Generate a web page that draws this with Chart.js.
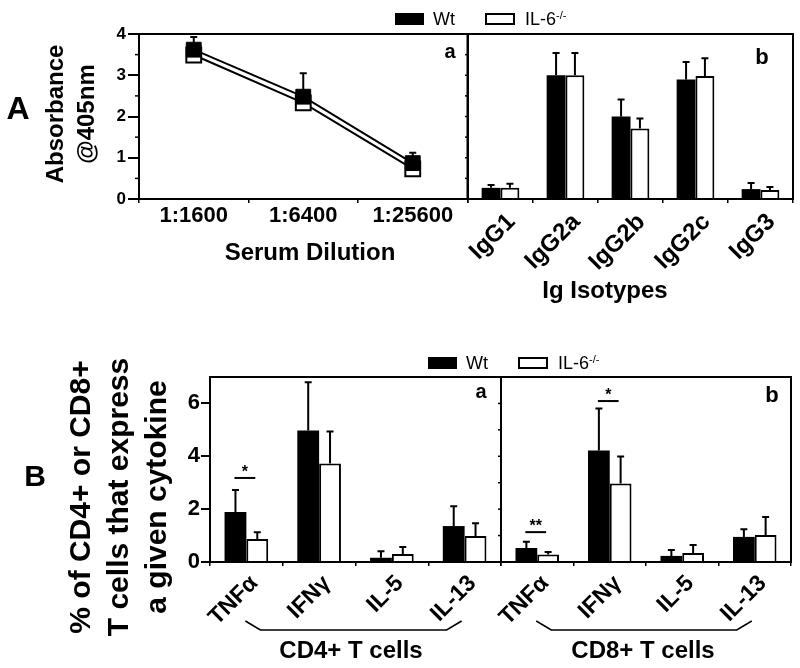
<!DOCTYPE html>
<html><head><meta charset="utf-8">
<script src="https://cdn.jsdelivr.net/npm/chart.js@4.4.1/dist/chart.umd.min.js"></script>
<style>
html,body{margin:0;padding:0;background:#fff;}
#wrap{position:relative;width:800px;height:668px;overflow:hidden;font-family:"Liberation Sans",Arial,sans-serif;color:#000;}
canvas{position:absolute;}
.t{position:absolute;white-space:nowrap;font-weight:bold;transform:translate(-50%,-50%);line-height:1;text-align:center;}
.rot{transform:translate(-50%,-50%) rotate(-90deg);}
.lg{position:absolute;white-space:nowrap;font-size:18px;transform:translateY(-50%);line-height:1;}
.lg sup{font-size:11px;vertical-align:6px;line-height:0;}
.box{position:absolute;box-sizing:border-box;border:2px solid #000;}
</style></head><body><div id="wrap">
<canvas id="cAa" style="left:0;top:0" width="480" height="245"></canvas>
<canvas id="cAb" style="left:400px;top:0" width="400" height="290"></canvas>
<canvas id="cBa" style="left:0;top:330px" width="510" height="338"></canvas>
<canvas id="cBb" style="left:460px;top:330px" width="340" height="338"></canvas>
</div>
<script>
// ---------- data ----------
const seriesNames = ['Wt', 'IL-6-/-'];
const dilutions = ['1:1600', '1:6400', '1:25600'];
const absWt = [3.62, 2.48, 0.87];
const absWtSD = [0.31, 0.57, 0.25];
const absKo = [3.49, 2.33, 0.73];

const isotypes = ['IgG1', 'IgG2a', 'IgG2b', 'IgG2c', 'IgG3'];
const igWt = [0.27, 3.00, 2.00, 2.90, 0.24];
const igWtSD = [0.07, 0.54, 0.41, 0.42, 0.15];
const igKo = [0.27, 3.00, 1.71, 2.98, 0.22];
const igKoSD = [0.10, 0.54, 0.24, 0.43, 0.07];

const cytokines = ['TNFα', 'IFNγ', 'IL-5', 'IL-13'];
const cd4Wt = [1.89, 4.98, 0.16, 1.36];
const cd4WtSD = [0.83, 1.82, 0.25, 0.75];
const cd4Ko = [0.87, 3.73, 0.30, 0.98];
const cd4KoSD = [0.26, 1.21, 0.27, 0.49];
const cd8Wt = [0.53, 4.22, 0.23, 0.95];
const cd8WtSD = [0.24, 1.59, 0.22, 0.29];
const cd8Ko = [0.28, 2.97, 0.34, 1.02];
const cd8KoSD = [0.10, 1.02, 0.30, 0.68];

const cd4Sig = [{index: 0, level: 3.18, mark: '*'}];
const cd8Sig = [{index: 0, level: 1.13, mark: '**'}, {index: 1, level: 6.09, mark: '*'}];

const absTicks = [0, 1, 2, 3, 4];
const pctTicks = [0, 2, 4, 6];

// ---------- setup ----------
const FONT = '"Liberation Sans", Arial, sans-serif';
Chart.defaults.font.family = FONT;
Chart.defaults.color = '#000';
Chart.defaults.animation = false;

const errorBars = {
  id: 'errorBars',
  afterDatasetsDraw(chart) {
    const ctx = chart.ctx, ys = chart.scales.y;
    chart.data.datasets.forEach((ds, i) => {
      if (!ds.sd) return;
      const meta = chart.getDatasetMeta(i);
      meta.data.forEach((el, j) => {
        const sd = ds.sd[j];
        if (sd == null) return;
        const x = el.x, y0 = el.y, y1 = ys.getPixelForValue(ds.data[j] + sd);
        ctx.save();
        ctx.strokeStyle = '#000'; ctx.lineWidth = 2;
        ctx.beginPath();
        ctx.moveTo(x, y0); ctx.lineTo(x, y1);
        ctx.moveTo(x - 3.5, y1); ctx.lineTo(x + 3.5, y1);
        ctx.stroke();
        ctx.restore();
      });
    });
  }
};
const frame = {
  id: 'frame',
  afterDatasetsDraw(chart) {
    const {ctx, chartArea: a} = chart;
    ctx.save(); ctx.strokeStyle = '#000'; ctx.lineWidth = 2;
    ctx.strokeRect(a.left, a.top, a.right - a.left, a.bottom - a.top);
    ctx.restore();
  }
};
const minorTicks = {
  id: 'minorTicks',
  afterDraw(chart, args, opts) {
    if (!opts.step) return;
    const ys = chart.scales.y, x = chart.chartArea.left, ctx = chart.ctx;
    ctx.save(); ctx.strokeStyle = '#000'; ctx.lineWidth = 1.5;
    for (let k = 1; ys.min + k * opts.step < ys.max - 1e-9; k++) {
      const v = ys.min + k * opts.step;
      if (opts.skipMajor && Math.abs(v - Math.round(v)) < 1e-9) continue;
      const y = ys.getPixelForValue(v);
      ctx.beginPath(); ctx.moveTo(x, y); ctx.lineTo(x - opts.len, y); ctx.stroke();
    }
    ctx.restore();
  }
};
const sigMarks = {
  id: 'sigMarks',
  afterDatasetsDraw(chart, args, opts) {
    if (!opts.items) return;
    const ctx = chart.ctx, ys = chart.scales.y;
    const m0 = chart.getDatasetMeta(0), m1 = chart.getDatasetMeta(1);
    opts.items.forEach(it => {
      const x0 = m0.data[it.index].x - 1, x1 = m1.data[it.index].x - 2;
      const y = ys.getPixelForValue(it.level);
      ctx.save();
      ctx.strokeStyle = '#000'; ctx.lineWidth = 2;
      ctx.beginPath(); ctx.moveTo(x0, y); ctx.lineTo(x1, y); ctx.stroke();
      ctx.fillStyle = '#000'; ctx.font = 'bold 16px ' + FONT;
      ctx.textAlign = 'center'; ctx.textBaseline = 'alphabetic';
      ctx.fillText(it.mark, (x0 + x1) / 2, y - 1);
      ctx.restore();
    });
  }
};
const bracket = {
  id: 'bracket',
  afterDraw(chart, args, opts) {
    if (opts.from == null) return;
    const ctx = chart.ctx, xs = chart.scales.x, b = chart.chartArea.bottom;
    const x0 = xs.getPixelForValue(opts.from) - 1, x1 = xs.getPixelForValue(opts.to) - 3;
    ctx.save(); ctx.strokeStyle = '#000'; ctx.lineWidth = 1.6;
    ctx.beginPath();
    ctx.moveTo(x0, b + 59); ctx.lineTo(x0 + 15, b + 68); ctx.lineTo(x1 - 15, b + 68); ctx.lineTo(x1, b + 59);
    ctx.stroke(); ctx.restore();
  }
};

function xAxis(size, rot, pad, shift) {
  return {
    offset: true,
    grid: {offset: true, drawOnChartArea: false, tickLength: 4, color: '#000', lineWidth: 1.5},
    border: {display: false},
    ticks: {font: {size: size, weight: 'bold'}, padding: pad, labelOffset: shift || 0,
            minRotation: rot, maxRotation: rot, autoSkip: false}
  };
}

function barSets(w, wsd, k, ksd) {
  return [
    {label: seriesNames[0], data: w, sd: wsd, backgroundColor: '#000', borderColor: '#000', borderWidth: 0},
    {label: seriesNames[1], data: k, sd: ksd, backgroundColor: '#fff', borderColor: '#000', borderWidth: 2}
  ];
}

// ---------- A a: line chart ----------
new Chart(document.getElementById('cAa'), {
  type: 'line',
  data: {labels: dilutions, datasets: [
    {label: seriesNames[0], data: absWt, sd: absWtSD, borderColor: '#000', borderWidth: 2,
     pointStyle: 'rect', pointRadius: 10.5, pointBackgroundColor: '#000', pointBorderColor: '#000', pointBorderWidth: 1, tension: 0},
    {label: seriesNames[1], data: absKo, borderColor: '#000', borderWidth: 2,
     pointStyle: 'rect', pointRadius: 10.5, pointBackgroundColor: '#fff', pointBorderColor: '#000', pointBorderWidth: 2, tension: 0}
  ]},
  options: {
    responsive: false, animation: false,
    layout: {padding: {top: 34, right: 12, left: 0, bottom: 0}},
    plugins: {legend: {display: false}, tooltip: {enabled: false},
      minorTicks: {step: 0.5, len: 4, skipMajor: true}},
    scales: {
      x: Object.assign(xAxis(22, 0, 0), {afterFit: s => { s.height = 46; }}),
      y: {min: 0, max: 4,
          afterBuildTicks: s => { s.ticks = absTicks.map(v => ({value: v})); },
          ticks: {font: {size: 17, weight: 'bold'}, padding: 2},
          grid: {drawOnChartArea: false, tickLength: 11, color: '#000', lineWidth: 2},
          border: {display: false},
          afterFit: s => { s.width = 139; }}
    }
  },
  plugins: [errorBars, frame, minorTicks]
});

// ---------- A b: isotypes ----------
new Chart(document.getElementById('cAb'), {
  type: 'bar',
  data: {labels: isotypes, datasets: barSets(igWt, igWtSD, igKo, igKoSD)},
  options: {
    responsive: false, animation: false,
    categoryPercentage: 0.58, barPercentage: 1,
    layout: {padding: {top: 34, right: 7, left: 68, bottom: 0}},
    plugins: {legend: {display: false}, tooltip: {enabled: false},
      minorTicks: {step: 0.5, len: 3}},
    scales: {
      x: Object.assign(xAxis(24, 45, 5, 11), {afterFit: s => { s.height = 91; }}),
      y: {display: false, min: 0, max: 4}
    }
  },
  plugins: [errorBars, frame, minorTicks]
});

// ---------- B a: CD4 ----------
new Chart(document.getElementById('cBa'), {
  type: 'bar',
  data: {labels: cytokines, datasets: barSets(cd4Wt, cd4WtSD, cd4Ko, cd4KoSD)},
  options: {
    responsive: false, animation: false,
    categoryPercentage: 0.6, barPercentage: 1,
    layout: {padding: {top: 47, right: 9, left: 0, bottom: 0}},
    plugins: {legend: {display: false}, tooltip: {enabled: false},
      sigMarks: {items: cd4Sig}, bracket: {from: 0, to: 3}},
    scales: {
      x: Object.assign(xAxis(23, 45, 4, 8), {afterFit: s => { s.height = 106; }}),
      y: {min: 0, max: 7,
          afterBuildTicks: s => { s.ticks = pctTicks.map(v => ({value: v})); },
          ticks: {font: {size: 22, weight: 'bold'}, padding: 1},
          grid: {drawOnChartArea: false, tickLength: 9, color: '#000', lineWidth: 2},
          border: {display: false},
          afterFit: s => { s.width = 210; }}
    }
  },
  plugins: [errorBars, frame, sigMarks, bracket]
});

// ---------- B b: CD8 ----------
new Chart(document.getElementById('cBb'), {
  type: 'bar',
  data: {labels: cytokines, datasets: barSets(cd8Wt, cd8WtSD, cd8Ko, cd8KoSD)},
  options: {
    responsive: false, animation: false,
    categoryPercentage: 0.6, barPercentage: 1,
    layout: {padding: {top: 47, right: 9, left: 41, bottom: 0}},
    plugins: {legend: {display: false}, tooltip: {enabled: false},
      sigMarks: {items: cd8Sig}, bracket: {from: 0, to: 3},
      minorTicks: {step: 1, len: 3}},
    scales: {
      x: Object.assign(xAxis(23, 45, 4, 8), {afterFit: s => { s.height = 106; }}),
      y: {display: false, min: 0, max: 7}
    }
  },
  plugins: [errorBars, frame, sigMarks, bracket, minorTicks]
});

// ---------- text ----------
const wrap = document.getElementById('wrap');
function txt(s, cx, cy, size, cls, extra) {
  const d = document.createElement('div');
  d.className = 't' + (cls ? ' ' + cls : '');
  d.style.left = cx + 'px'; d.style.top = cy + 'px'; d.style.fontSize = size + 'px';
  if (extra) Object.assign(d.style, extra);
  if (Array.isArray(s)) { s.forEach((line, i) => { if (i) d.appendChild(document.createElement('br')); d.appendChild(document.createTextNode(line)); }); }
  else d.textContent = s;
  wrap.appendChild(d);
}
function legend(x, y) {
  const b1 = document.createElement('div'); b1.className = 'box';
  Object.assign(b1.style, {left: x + 'px', top: (y - 6) + 'px', width: '29px', height: '12px', background: '#000'});
  wrap.appendChild(b1);
  const l1 = document.createElement('div'); l1.className = 'lg';
  Object.assign(l1.style, {left: (x + 38) + 'px', top: y + 'px'}); l1.textContent = seriesNames[0];
  wrap.appendChild(l1);
  const b2 = document.createElement('div'); b2.className = 'box';
  Object.assign(b2.style, {left: (x + 90) + 'px', top: (y - 6) + 'px', width: '30px', height: '12px', background: '#fff'});
  wrap.appendChild(b2);
  const l2 = document.createElement('div'); l2.className = 'lg';
  Object.assign(l2.style, {left: (x + 130) + 'px', top: y + 'px'});
  const parts = seriesNames[1].split(/(?=-\/-)/);
  l2.appendChild(document.createTextNode(parts[0]));
  const sp = document.createElement('sup'); sp.textContent = parts[1] || ''; l2.appendChild(sp);
  wrap.appendChild(l2);
}
legend(395, 19);
legend(428, 363);

txt('A', 18, 108, 32);
txt('B', 35, 476, 30);
txt(['Absorbance', '@405nm'], 69.5, 114, 24, 'rot', {lineHeight: '31px'});
txt(['% of CD4+ or CD8+', 'T cells that express', 'a given cytokine'], 118, 497, 30, 'rot', {lineHeight: '38px'});
txt('Serum Dilution', 310, 252, 24);
txt('Ig Isotypes', 605, 290, 24);
txt('CD4+ T cells', 351, 650, 24);
txt('CD8+ T cells', 643, 650, 24);
txt('a', 450, 51, 20);
txt('b', 762, 57, 22);
txt('a', 481, 391, 20);
txt('b', 772, 395, 22);
</script></body></html>
